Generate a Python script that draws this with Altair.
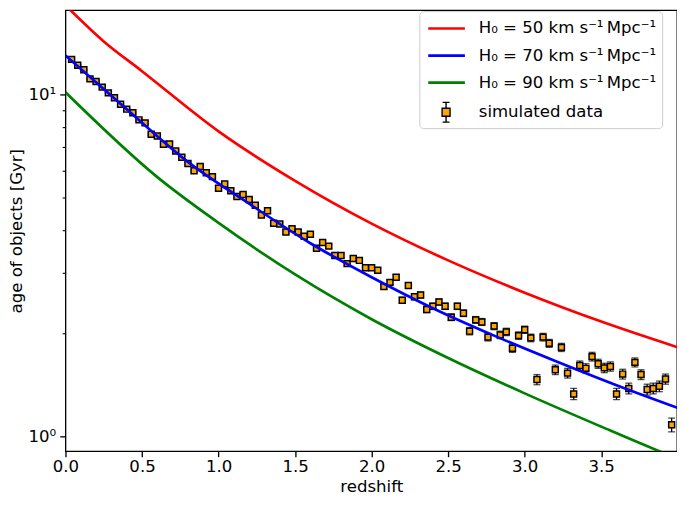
import altair as alt
import pandas as pd

# ---------------- data ----------------
Z_DATA = [0.04, 0.08, 0.12, 0.16, 0.20, 0.24, 0.28, 0.32, 0.36, 0.40,
          0.44, 0.48, 0.52, 0.56, 0.60, 0.64, 0.68, 0.72, 0.76, 0.80,
          0.84, 0.88, 0.92, 0.96, 1.00, 1.04, 1.08, 1.12, 1.16, 1.20,
          1.24, 1.28, 1.32, 1.36, 1.40, 1.44, 1.48, 1.52, 1.56, 1.60,
          1.64, 1.68, 1.72, 1.76, 1.80, 1.84, 1.88, 1.92, 1.96, 2.00,
          2.04, 2.08, 2.12, 2.16, 2.20, 2.24, 2.28, 2.32, 2.36, 2.40,
          2.44, 2.48, 2.52, 2.56, 2.60, 2.64, 2.68, 2.72, 2.76, 2.80,
          2.84, 2.88, 2.92, 2.96, 3.00, 3.04, 3.08, 3.12, 3.16, 3.20,
          3.24, 3.28, 3.32, 3.36, 3.40, 3.44, 3.48, 3.52, 3.56, 3.60,
          3.64, 3.68, 3.72, 3.76, 3.80, 3.84, 3.88, 3.92, 3.96]
AGE_DATA = [12.67, 12.18, 11.81, 11.11, 10.92, 10.51, 10.11, 9.78, 9.36, 9.06,
            8.84, 8.43, 8.26, 7.65, 7.56, 7.15, 7.17, 6.83, 6.55, 6.28,
            5.98, 6.16, 5.90, 5.75, 5.32, 5.47, 5.23, 5.03, 5.10, 4.93,
            4.74, 4.44, 4.57, 4.20, 4.18, 3.96, 4.05, 3.96, 3.85, 3.90,
            3.55, 3.69, 3.60, 3.38, 3.38, 3.20, 3.31, 3.27, 3.11, 3.11,
            3.06, 2.74, 2.82, 2.92, 2.50, 2.76, 2.56, 2.59, 2.35, 2.40,
            2.47, 2.40, 2.23, 2.40, 2.29, 2.03, 2.19, 2.16, 1.95, 2.10,
            1.98, 2.02, 1.81, 1.97, 2.05, 1.94, 1.465, 1.95, 1.87, 1.565,
            1.82, 1.53, 1.33, 1.61, 1.58, 1.71, 1.63, 1.585, 1.60, 1.33,
            1.52, 1.38, 1.645, 1.515, 1.37, 1.38, 1.40, 1.47, 1.08]
AGE_ERR = 0.05

Z_RED = [0.0, 0.25, 0.5, 1.0, 1.5, 2.0, 2.5, 3.0, 3.5, 4.0]
AGE_RED = [18.24, 14.3, 11.7, 7.80, 5.59, 4.19, 3.27, 2.63, 2.165, 1.82]
Z_BLUE = [0.0, 0.4, 0.8, 1.2, 1.6, 2.0, 2.4, 2.8, 3.2, 3.6, 4.0]
AGE_BLUE = [13.0, 9.06, 6.35, 4.79, 3.67, 2.92, 2.37, 1.97, 1.66, 1.41, 1.21]
Z_GREEN = [0.0, 0.6, 1.0, 1.5, 2.0, 2.5, 3.0, 3.5, 3.88, 4.0]
AGE_GREEN = [10.15, 5.73, 4.21, 2.975, 2.20, 1.694, 1.335, 1.067, 0.904, 0.86]

LINE_LABELS = ["H\u2080 = 50 km s\u207b\u00b9\u2009Mpc\u207b\u00b9",
               "H\u2080 = 70 km s\u207b\u00b9\u2009Mpc\u207b\u00b9",
               "H\u2080 = 90 km s\u207b\u00b9\u2009Mpc\u207b\u00b9"]
LINE_COLORS = ["#ff0000", "#0000ff", "#008000"]
DATA_LABEL = "simulated data"

X_TICKS = [0.0, 0.5, 1.0, 1.5, 2.0, 2.5, 3.0, 3.5]
Y_MAJOR = [1, 10]
Y_MINOR = [0.9, 2, 3, 4, 5, 6, 7, 8, 9]

# legend glyphs (unit box -1..1)
LINE_PATH = "M-1.85,0H1.85"
DATA_PATH = ("M-0.35,-1H0.35M0,-1V-0.4M-0.4,-0.4H0.4V0.4H-0.4Z"
             "M0,0.4V1M-0.35,1H0.35")

# ---------------- tables ----------------
pts = pd.DataFrame({"z": Z_DATA, "age": AGE_DATA})
pts["lo"] = pts["age"] - AGE_ERR
pts["hi"] = pts["age"] + AGE_ERR
pts["series"] = DATA_LABEL

lines = pd.concat([
    pd.DataFrame({"z": Z_RED, "age": AGE_RED, "series": LINE_LABELS[0]}),
    pd.DataFrame({"z": Z_BLUE, "age": AGE_BLUE, "series": LINE_LABELS[1]}),
    pd.DataFrame({"z": Z_GREEN, "age": AGE_GREEN, "series": LINE_LABELS[2]}),
], ignore_index=True)

FONT = "DejaVu Sans"
FS = 16.7

x_scale = alt.Scale(domain=[0, 3.995], nice=False, zero=False)
y_scale = alt.Scale(type="log", domain=[0.904, 17.65], nice=False)

x_axis = alt.Axis(values=X_TICKS, format=".1f", title="redshift",
                  tickSize=5.5, tickWidth=1.33, tickColor="black",
                  labelFont=FONT, labelFontSize=FS, labelColor="black",
                  labelPadding=2, labelFlush=False, labelOverlap=False,
                  domain=False, grid=False,
                  titleFont=FONT, titleFontSize=FS, titleFontWeight="normal",
                  titleColor="black", titlePadding=3)
y_axis = alt.Axis(values=Y_MAJOR,
                  labelExpr="datum.value == 10 ? '10\u00b9' : '10\u2070'",
                  title="age of objects [Gyr]", orient="left",
                  tickSize=5.8, tickWidth=1.33, tickColor="black",
                  labelFont=FONT, labelFontSize=FS, labelColor="black",
                  labelPadding=4, labelOverlap=False,
                  domain=False, grid=False,
                  titleFont=FONT, titleFontSize=FS, titleFontWeight="normal",
                  titleColor="black", titlePadding=3)
y_minor_axis = alt.Axis(values=Y_MINOR, labels=False, title="", orient="left",
                        tickSize=3.3, tickWidth=1.1, tickColor="black",
                        domain=False, grid=False)

# framed legend for the three curves; its blank bottom title reserves the 4th row
line_legend = alt.Legend(title="\u00a0", titleOrient="bottom", titleFontSize=FS,
                         titlePadding=14, orient="none", legendX=357, legendY=1,
                         padding=6, fillColor="rgba(255,255,255,0.8)",
                         strokeColor="#cccccc", cornerRadius=4,
                         labelFont=FONT, labelFontSize=FS, labelColor="black",
                         labelLimit=400, symbolType=LINE_PATH, symbolSize=400,
                         symbolStrokeWidth=2.7, symbolOffset=10, labelOffset=21,
                         rowPadding=6.3)
# frameless legend for the data, placed in the reserved 4th row
data_legend = alt.Legend(title=None, orient="none", legendX=357, legendY=86,
                         padding=6, labelFont=FONT, labelFontSize=FS,
                         labelColor="black", labelLimit=400, symbolSize=400,
                         symbolType=DATA_PATH, symbolFillColor="#ffa500",
                         symbolStrokeWidth=1.4, symbolOpacity=1,
                         symbolOffset=10, labelOffset=22)

err = alt.Chart(pts).mark_errorbar(ticks={"size": 7}, thickness=1.3, color="black").encode(
    x=alt.X("z:Q", scale=x_scale, axis=x_axis),
    y=alt.Y("lo:Q", scale=y_scale, axis=None),
    y2="hi:Q",
)
points = alt.Chart(pts).mark_point(shape="square", size=36, filled=True,
                                   fill="#ffa500", stroke="black",
                                   strokeWidth=1.5, opacity=1).encode(
    x=alt.X("z:Q", scale=x_scale, axis=x_axis),
    y=alt.Y("age:Q", scale=y_scale, axis=None),
)
curves = alt.Chart(lines).mark_line(strokeWidth=2.7, clip=True, interpolate="monotone").encode(
    x=alt.X("z:Q", scale=x_scale, axis=x_axis),
    y=alt.Y("age:Q", scale=y_scale, axis=y_axis),
    stroke=alt.Stroke("series:N",
                      scale=alt.Scale(domain=LINE_LABELS, range=LINE_COLORS),
                      legend=line_legend),
)
# invisible copy of the points that carries the minor ticks and the data legend
minor = alt.Chart(pts).mark_point(opacity=0, filled=True, fill="#ffa500",
                                  strokeWidth=1.4).encode(
    x=alt.X("z:Q", scale=x_scale, axis=x_axis),
    y=alt.Y("age:Q", scale=y_scale, axis=y_minor_axis),
    stroke=alt.Stroke("series:N",
                      scale=alt.Scale(domain=[DATA_LABEL], range=["#000000"]),
                      legend=data_legend),
)

chart = alt.layer(err, points, curves, minor).resolve_axis(
    y="independent"
).resolve_scale(stroke="independent").properties(
    width=617, height=445,
    padding={"left": 58, "top": 0, "right": 0, "bottom": 44},
    autosize="none",
).configure(font=FONT).configure_view(stroke="black", strokeWidth=1.33)

chart.save("out.html", embed_options={"renderer": "svg", "actions": False})
